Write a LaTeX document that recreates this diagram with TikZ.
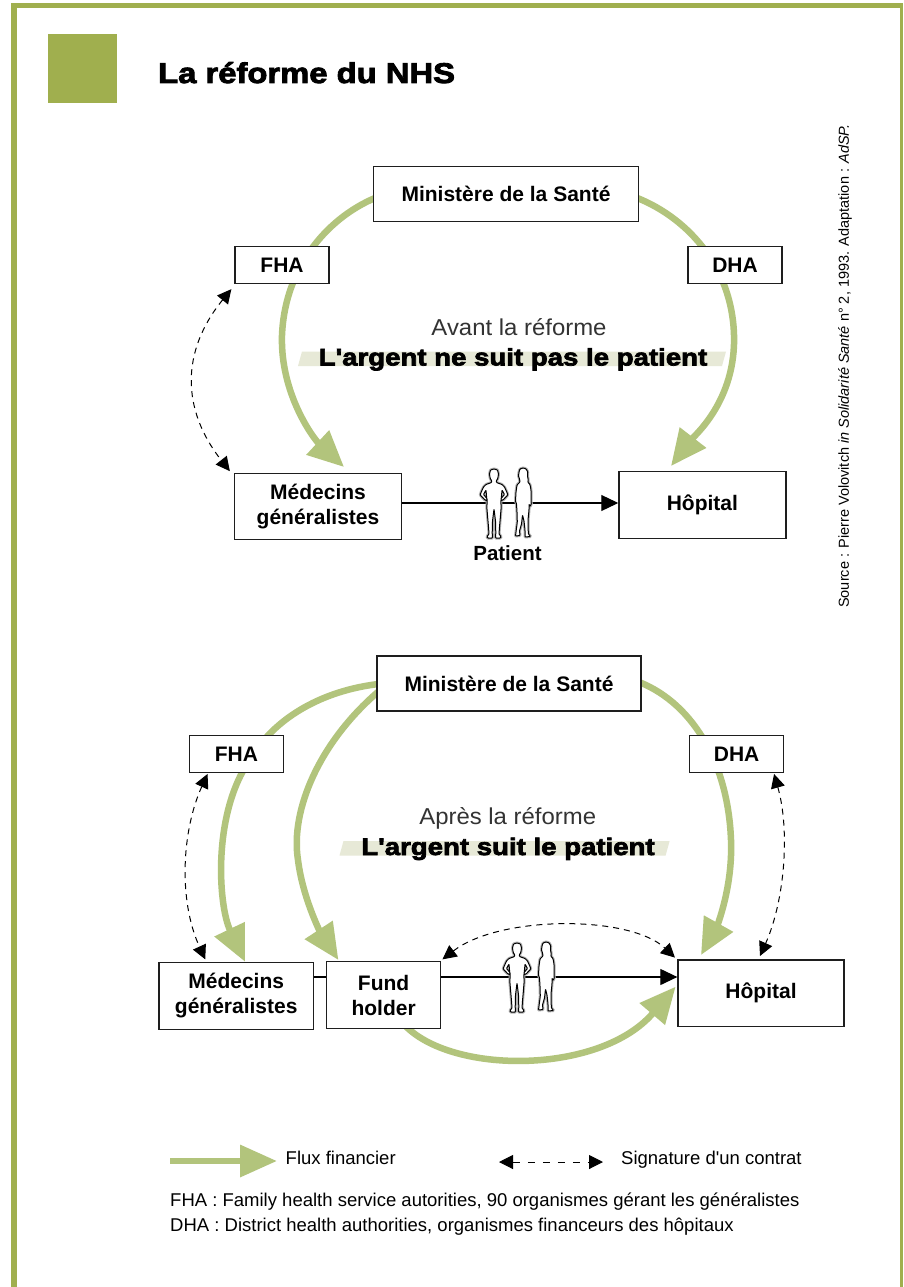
\documentclass[tikz,border=0pt]{standalone}
\usepackage{fontspec}
\setmainfont{Liberation Sans}[Ligatures=TeXOff]
\newfontfamily\blackfont{Liberation Sans}[Ligatures=TeXOff, FakeStretch=1.15, BoldFeatures={FakeBold=3}]
\newfontfamily\lightfont{Liberation Sans}[Ligatures=TeXOff, FakeStretch=1.04]
\usetikzlibrary{arrows.meta,calc}
\definecolor{framegreen}{RGB}{160,175,78}
\definecolor{arrowgreen}{RGB}{178,196,124}
\definecolor{bandcol}{RGB}{231,233,215}
\definecolor{boxline}{RGB}{30,30,30}
\tikzset{
  box/.style={draw=boxline, line width=1.3pt, fill=white, align=center, inner sep=0pt,
    font=\bfseries\fontsize{21}{25}\selectfont},
  flow/.style={draw=arrowgreen, line width=6.5pt, -{Triangle[length=36pt,width=32pt]}},
  contract/.style={draw=black, line width=1pt, dash pattern=on 6pt off 5pt,
    {Triangle[length=14pt,width=14pt]}-{Triangle[length=14pt,width=14pt]}},
  patientflow/.style={draw=black, line width=1.2pt, -{Triangle[length=17pt,width=16pt]}},
  figure/.style={draw=black, line width=1pt, fill=white, rounded corners=0.7pt, line join=round,
    preaction={draw=black!30, line width=3pt}},
  slogan/.style={font=\blackfont\bfseries\fontsize{24}{28}\selectfont, anchor=base, inner sep=0pt},
  subtitle/.style={font=\lightfont\fontsize{23}{27}\selectfont, text=black!80, anchor=base, inner sep=0pt},
  legendtext/.style={font=\fontsize{18.5}{22}\selectfont, anchor=base west, inner sep=0pt},
  patients/.pic={
    \draw[figure] (0,0) -- (3.5,1) -- (4.5,5) -- (3.8,9.5) -- (2.2,12) -- (2.5,13.5) -- (8,15.5)
      -- (10.5,18) -- (13.2,24) -- (13.8,26) -- (9,31) -- (7,31.5) -- (7,29.5) -- (10.5,25.5)
      -- (8,21) -- (7.5,27) -- (6.8,33) -- (7.2,38) -- (6.2,50) -- (5.5,58) -- (5,65) -- (7,67.5)
      -- (6.5,69) -- (1.5,69) -- (1.8,64) -- (1.5,52) -- (0,40) -- (-1.5,52) -- (-1.8,64) -- (-1.5,69)
      -- (-6.5,69) -- (-7,67.5) -- (-5,65) -- (-5.5,58) -- (-6.2,50) -- (-7.2,38) -- (-6.8,33)
      -- (-7.5,27) -- (-8,21) -- (-10.5,25.5) -- (-7,29.5) -- (-7,31.5) -- (-9,31) -- (-13.8,26)
      -- (-13.2,24) -- (-10.5,18) -- (-8,15.5) -- (-2.5,13.5) -- (-2.2,12) -- (-3.8,9.5) -- (-4.5,5)
      -- (-3.5,1) -- cycle;
    \begin{scope}[shift={(29,-1)}]
    \draw[figure] (0,0) -- (3,0.8) -- (4.8,4) -- (4.5,8) -- (5.3,12) -- (4.8,14) -- (7,16.5)
      -- (8,22) -- (8,30) -- (8.3,36) -- (7,38.5) -- (6,36) -- (6,42) -- (5,52)
      -- (5,60) -- (5.5,66) -- (7.5,68.5) -- (2,69) -- (2,62) -- (1,53) -- (-0.5,47) -- (-1.5,56)
      -- (-3.5,63) -- (-3,67.5) -- (-7.5,68) -- (-7,64) -- (-5.7,54) -- (-6,44) -- (-6.5,36)
      -- (-7.5,33) -- (-7,24) -- (-6,17) -- (-3,14) -- (-3.5,11) -- (-4.5,8) -- (-4,4)
      -- (-3,1) -- cycle;
    \end{scope}
  }
}
\begin{document}
\begin{tikzpicture}[x=1pt,y=-1pt]
\useasboundingbox (0,0) rectangle (903,1287);
\fill[white] (0,0) rectangle (903,1287);
% frame
\fill[framegreen] (11,3) rectangle (903,8.5);
\fill[framegreen] (11,3) rectangle (16.5,1287);
\fill[framegreen] (900,3) rectangle (903,1287);
% title
\node[fill=framegreen, minimum size=69pt, inner sep=0pt] (sq) at (82.5,68.5) {};
\node[anchor=base west, inner sep=0pt, font=\blackfont\bfseries\fontsize{28.5}{32}\selectfont] (title) at (158,83) {La réforme du NHS};
% source
\node[rotate=90, inner sep=0pt, font=\fontsize{14.5}{17}\selectfont] (src) at (845,366)
  {Source : Pierre Volovitch \textit{in Solidarité Santé} n° 2, 1993. Adaptation : \textit{AdSP.}};

% ===== top diagram =====
\coordinate (ylineT) at (0,503);
\draw[flow] (380,196) .. controls (330,215) and (285,265) .. (282,335) .. controls (280,395) and (315,440) .. (344,467);
\draw[flow] (632,196) .. controls (685,215) and (732,265) .. (734,335) .. controls (736,400) and (695,435) .. (671,466);
\node[box, minimum width=265pt, minimum height=55pt] (mst1) at (506,194) {Ministère de la Santé};
\node[box, minimum width=94pt, minimum height=37pt] (fha1) at (282,265) {FHA};
\node[box, minimum width=94pt, minimum height=37pt] (dha1) at (735,265) {DHA};
\node[box, minimum width=167pt, minimum height=66pt] (med1) at (318,506.3) {Médecins\\généralistes};
\node[box, minimum width=167pt, minimum height=66.6pt] (hop1) at (702.4,505) {Hôpital};
\draw[contract] ($(fha1.south west)+(-3,5)$) .. controls (181,351) and (181,409) .. ($(med1.north west)+(-4,-1.5)$);
\draw[patientflow] (med1.east |- ylineT) -- (hop1.west |- ylineT);
\pic (pairT) at (494,469) {patients};
\node[font=\bfseries\fontsize{20.5}{24}\selectfont, anchor=base, inner sep=0pt] (pat) at (507.5,560) {Patient};
\node[subtitle] (avant) at (519,335.5) {Avant la réforme};
\fill[bandcol] (302,351.5) -- (726,351.5) -- (722,366) -- (298,366) -- cycle;
\node[slogan] (slogan1) at (513,365.5) {L'argent ne suit pas le patient};

% ===== bottom diagram =====
\coordinate (ylineB) at (0,977);
\draw[flow] (383,683.5) .. controls (318,690) and (272,722) .. (252,757) .. controls (212,810) and (218,905) .. (245,961.7);
\draw[flow] (382,688.5) .. controls (320,740) and (290,810) .. (298,860) .. controls (303,900) and (322,935) .. (338.4,960);
\draw[flow] (635,680.5) .. controls (690,700) and (728,760) .. (731,840) .. controls (733,890) and (715,930) .. (701,955);
\draw[flow] (403.6,1024) .. controls (450,1075) and (600,1075) .. (675.6,986.7);
\node[box, minimum width=264pt, minimum height=55pt] (mst2) at (509,683.5) {Ministère de la Santé};
\node[box, minimum width=94.4pt, minimum height=37pt] (fha2) at (236.4,754.2) {FHA};
\node[box, minimum width=93.6pt, minimum height=37pt] (dha2) at (736.6,754.2) {DHA};
\node[box, minimum width=154.6pt, minimum height=66.6pt] (med2) at (236.2,996) {Médecins\\généralistes};
\node[box, minimum width=113.6pt, minimum height=66.6pt] (fund2) at (383.6,995) {Fund\\holder};
\node[box, minimum width=166pt, minimum height=66.7pt] (hop2) at (761,993.3) {Hôpital};
\draw[contract] ($(fha2.south west)+(19,0.6)$) .. controls (182,830) and (178,900) .. ($(med2.north west)+(47,-2.7)$);
\draw[contract] ($(dha2.south east)+(-10,0.6)$) .. controls (790,830) and (785,900) .. ($(hop2.north)+(-1,-3.3)$);
\draw[contract] ($(fund2.north east)+(1.4,-1.7)$) .. controls (500,915) and (630,915) .. ($(hop2.north west)+(-2.4,-1.7)$);
\draw[line width=1.2pt] (med2.east |- ylineB) -- (fund2.west |- ylineB);
\draw[patientflow] (fund2.east |- ylineB) -- (hop2.west |- ylineB);
\pic (pairB) at (517,943) {patients};
\node[subtitle] (apres) at (507.7,824.3) {Après la réforme};
\fill[bandcol] (343.5,841) -- (669.6,841) -- (665.6,855.5) -- (339.5,855.5) -- cycle;
\node[slogan] (slogan2) at (508,855) {L'argent suit le patient};

% ===== legend =====
\coordinate (lgA) at (170,1161);
\coordinate (lgB) at (277,1161);
\draw[flow, -{Triangle[length=37pt,width=31pt]}] (lgA) -- (lgB);
\node[legendtext] (lgflux) at (285.5,1164) {Flux financier};
\coordinate (lgC) at (499,1162);
\coordinate (lgD) at (603,1162);
\draw[contract, dash pattern=on 7pt off 8pt, {Triangle[length=14pt,width=14pt]}-{Triangle[length=14pt,width=14pt]}] (lgC) -- (lgD);
\node[legendtext] (lgsig) at (621,1164) {Signature d'un contrat};
\node[legendtext] (lgfha) at (170,1206) {FHA : Family health service autorities, 90 organismes gérant les généralistes};
\node[legendtext] (lgdha) at (170,1231) {DHA : District health authorities, organismes financeurs des hôpitaux};
\end{tikzpicture}
\end{document}
